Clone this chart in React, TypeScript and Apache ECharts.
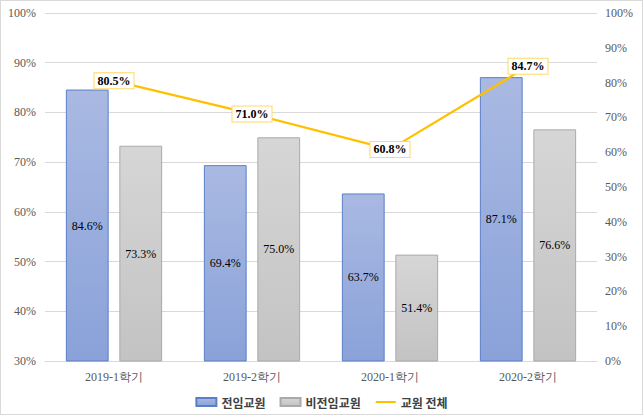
import React, { useEffect, useRef } from "react";
import * as echarts from "echarts";

const categories = ["2019-1학기", "2019-2학기", "2020-1학기", "2020-2학기"];
const fullTime = [84.6, 69.4, 63.7, 87.1];
const partTime = [73.3, 75.0, 51.4, 76.6];
const total = [80.5, 71.0, 60.8, 84.7];

const serif = "'Liberation Serif', 'Times New Roman', serif";
const kfont = "'Noto Sans CJK KR', sans-serif";

export default function App() {
  const ref = useRef<HTMLDivElement>(null);
  useEffect(() => {
    const chart = echarts.init(ref.current!, null, { renderer: "svg" });
    chart.setOption({
      animation: false,
      backgroundColor: "#fff",
      grid: { left: 44, right: 45, top: 12, bottom: 53 },
      legend: {
        top: 390,
        left: "center",
        itemWidth: 20,
        itemHeight: 8,
        itemGap: 14,
        textStyle: { fontFamily: kfont, fontSize: 12, fontWeight: "bold", color: "#404040" },
        data: [
          { name: "전임교원", icon: "rect" },
          { name: "비전임교원", icon: "rect" },
          { name: "교원 전체" },
        ],
      },
      xAxis: {
        type: "category",
        data: categories,
        axisLine: { lineStyle: { color: "#d9d9d9" } },
        axisTick: { show: false },
        axisLabel: { fontFamily: serif, fontSize: 12, color: "#595959", margin: 10 },
      },
      yAxis: [
        {
          type: "value",
          min: 30,
          max: 100,
          interval: 10,
          axisLabel: { formatter: "{value}%", fontFamily: serif, fontSize: 12, color: "#595959", margin: 9 },
          splitLine: { lineStyle: { color: "#d9d9d9" } },
          axisLine: { show: false },
          axisTick: { show: false },
        },
        {
          type: "value",
          min: 0,
          max: 100,
          interval: 10,
          axisLabel: { formatter: "{value}%", fontFamily: serif, fontSize: 12, color: "#595959", margin: 8 },
          splitLine: { show: false },
          axisLine: { show: false },
          axisTick: { show: false },
        },
      ],
      series: [
        {
          name: "전임교원",
          type: "bar",
          data: fullTime,
          barWidth: "31%",
          barGap: "25%",
          itemStyle: {
            color: new echarts.graphic.LinearGradient(0, 0, 0, 1, [
              { offset: 0, color: "#a9b9e2" },
              { offset: 1, color: "#8aa2d9" },
            ]),
            borderColor: "#5b7fc7",
            borderWidth: 1,
          },
          label: {
            show: true,
            position: "inside",
            formatter: "{c}%",
            fontFamily: serif,
            fontSize: 12,
            color: "#000",
          },
        },
        {
          name: "비전임교원",
          type: "bar",
          data: partTime,
          barWidth: "31%",
          barGap: "25%",
          itemStyle: {
            color: new echarts.graphic.LinearGradient(0, 0, 0, 1, [
              { offset: 0, color: "#d6d6d6" },
              { offset: 1, color: "#c3c3c3" },
            ]),
            borderColor: "#aaaaaa",
            borderWidth: 1,
          },
          label: {
            show: true,
            position: "inside",
            formatter: (p: any) => p.value.toFixed(1) + "%",
            fontFamily: serif,
            fontSize: 12,
            color: "#000",
          },
        },
        {
          name: "교원 전체",
          type: "line",
          yAxisIndex: 1,
          data: total,
          symbol: "circle",
          symbolSize: 4,
          showSymbol: true,
          lineStyle: { color: "#ffc000", width: 2.2 },
          itemStyle: { color: "rgba(255,192,0,0)", borderWidth: 0 },
          z: 5,
          label: {
            show: true,
            position: "inside",
            formatter: (p: any) => p.value.toFixed(1) + "%",
            fontFamily: serif,
            fontSize: 12,
            fontWeight: "bold",
            color: "#000",
            backgroundColor: "#fff",
            borderColor: "#ffd966",
            borderWidth: 1,
            padding: [2, 3, 1, 3],
          },
        },
      ],
    });
    return () => chart.dispose();
  }, []);
  return (
    <div
      style={{
        position: "fixed",
        left: 0,
        top: 0,
        width: 643,
        height: 415,
        border: "1px solid #d9d9d9",
        boxSizing: "border-box",
        background: "#fff",
      }}
    >
      <div ref={ref} style={{ width: 641, height: 413 }} />
    </div>
  );
}
